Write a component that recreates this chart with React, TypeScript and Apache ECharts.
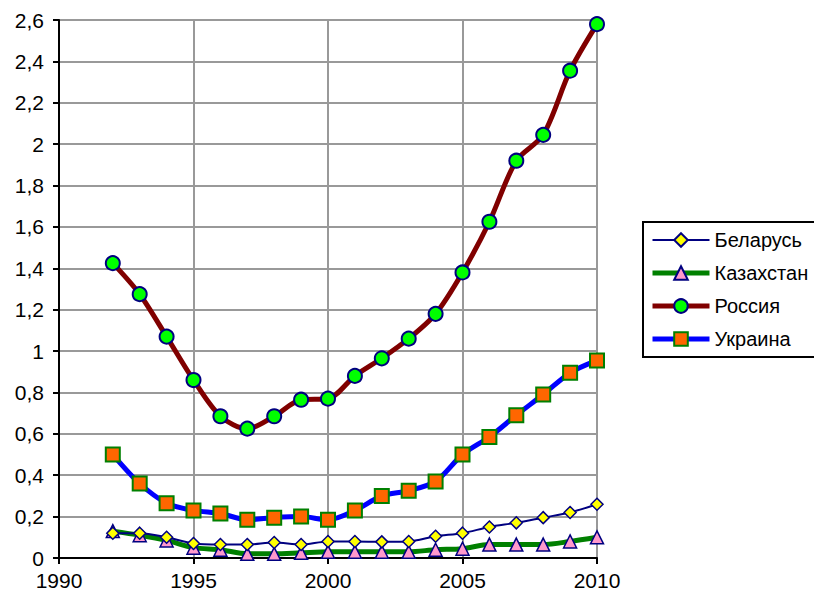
import React, { useEffect, useRef } from "react";
import * as echarts from "echarts";

const years = [1992, 1993, 1994, 1995, 1996, 1997, 1998, 1999, 2000, 2001, 2002, 2003, 2004, 2005, 2006, 2007, 2008, 2009, 2010];
const belarus = [0.12, 0.12, 0.1, 0.07, 0.065, 0.065, 0.075, 0.065, 0.08, 0.08, 0.078, 0.08, 0.105, 0.12, 0.15, 0.17, 0.195, 0.22, 0.26];
const kazakhstan = [0.13, 0.11, 0.085, 0.05, 0.04, 0.02, 0.02, 0.025, 0.03, 0.03, 0.03, 0.03, 0.04, 0.045, 0.065, 0.065, 0.065, 0.08, 0.1];
const russia = [1.425, 1.275, 1.07, 0.86, 0.685, 0.625, 0.685, 0.765, 0.77, 0.88, 0.965, 1.06, 1.18, 1.38, 1.625, 1.92, 2.045, 2.355, 2.58];
const ukraine = [0.5, 0.36, 0.265, 0.23, 0.215, 0.185, 0.195, 0.2, 0.185, 0.23, 0.3, 0.325, 0.37, 0.5, 0.585, 0.69, 0.79, 0.895, 0.955];
const seriesNames = ["Беларусь", "Казахстан", "Россия", "Украина"];

const FONT = "'Liberation Sans', Arial, sans-serif";

function pairs(vals: number[]) {
  return years.map((y, i) => [y, vals[i]]);
}

export default function App() {
  const ref = useRef<HTMLDivElement>(null);
  useEffect(() => {
    if (!ref.current) return;
    const chart = echarts.init(ref.current, null, { renderer: "svg" });
    chart.setOption({
      animation: false,
      backgroundColor: "#fff",
      textStyle: { fontFamily: FONT },
      grid: { left: 59, top: 20, right: 217, bottom: 36 },
      graphic: [
        {
          type: "rect",
          shape: { x: 643, y: 222, width: 190, height: 135 },
          style: { fill: "none", stroke: "#000", lineWidth: 2 },
          silent: true,
        },
      ],
      xAxis: {
        type: "value",
        min: 1990,
        max: 2010,
        interval: 5,
        axisLine: { show: true, onZero: false, lineStyle: { color: "#000", width: 2 } },
        axisTick: { show: true, length: 6, lineStyle: { color: "#000", width: 2 } },
        axisLabel: { color: "#000", fontSize: 21, fontFamily: FONT, margin: 12, formatter: (v: number) => String(v) },
        splitLine: { show: true, lineStyle: { color: "#999", width: 2 } },
      },
      yAxis: {
        type: "value",
        min: 0,
        max: 2.6,
        interval: 0.2,
        axisLine: { show: true, lineStyle: { color: "#000", width: 2 } },
        axisTick: { show: true, length: 6, lineStyle: { color: "#000", width: 2 } },
        axisLabel: {
          color: "#000",
          fontSize: 21,
          fontFamily: FONT,
          margin: 15,
          formatter: (v: number) => String(Math.round(v * 10) / 10).replace(".", ","),
        },
        splitLine: { show: true, lineStyle: { color: "#999", width: 2 } },
      },
      legend: {
        orient: "vertical",
        left: 643,
        top: 222,
        data: seriesNames,
        itemWidth: 57,
        itemHeight: 17,
        itemGap: 13,
        padding: [8, 4, 8, 7],
        borderWidth: 0,
        lineStyle: { width: "inherit" },
        textStyle: { color: "#000", fontSize: 20, fontFamily: FONT },
      },
      series: [
        {
          name: "Беларусь",
          type: "line",
          data: pairs(belarus),
          smooth: 0.3,
          symbol: "diamond",
          symbolSize: 12,
          lineStyle: { color: "#000080", width: 2 },
          itemStyle: { color: "#FFFF00", borderColor: "#000080", borderWidth: 1.5 },
          z: 4,
        },
        {
          name: "Казахстан",
          type: "line",
          data: pairs(kazakhstan),
          smooth: 0.3,
          symbol: "triangle",
          symbolSize: 13,
          lineStyle: { color: "#008000", width: 5 },
          itemStyle: { color: "#FF99CC", borderColor: "#000080", borderWidth: 1.5 },
          z: 3,
        },
        {
          name: "Россия",
          type: "line",
          data: pairs(russia),
          smooth: 0.3,
          symbol: "circle",
          symbolSize: 14,
          lineStyle: { color: "#800000", width: 5 },
          itemStyle: { color: "#00FF00", borderColor: "#000080", borderWidth: 2 },
          z: 5,
        },
        {
          name: "Украина",
          type: "line",
          data: pairs(ukraine),
          smooth: 0.3,
          symbol: "rect",
          symbolSize: 14,
          lineStyle: { color: "#0000FF", width: 5 },
          itemStyle: { color: "#FF6600", borderColor: "#008000", borderWidth: 2 },
          z: 5,
        },
      ],
    });
    return () => chart.dispose();
  }, []);
  return (
    <div
      ref={ref}
      style={{ position: "fixed", left: 0, top: 0, width: 814, height: 594 }}
    />
  );
}
